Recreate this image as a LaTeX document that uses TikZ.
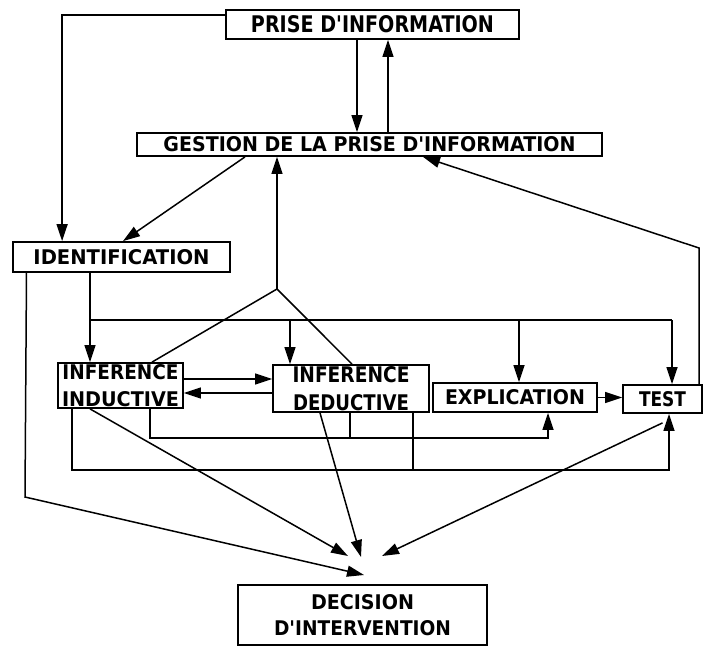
\documentclass[tikz,border=0pt]{standalone}
\usepackage{fontspec}
\newfontfamily\boxfont{DejaVu Sans}
\usetikzlibrary{arrows.meta,calc}
% box label: bold capitals squeezed to a given width and cap height
\newcommand\lbl[3]{\resizebox{#1pt}{#2pt}{\boxfont\bfseries #3}}
% two stacked labels with a given gap between them
\newcommand\twol[3]{\vbox{\halign{\hfil##\hfil\cr#1\cr\noalign{\kern#3pt}#2\cr}}}
\begin{document}
\begin{tikzpicture}[x=1pt,y=-1pt,line width=1.5pt,
  box/.style 2 args={draw,line width=1.8pt,inner sep=0pt,
    minimum width=#1pt,minimum height=#2pt},
  arr/.style={-{Triangle[length=17pt,width=11pt]}}]
\useasboundingbox (0,0) rectangle (703,647);

% boxes
\node[box={293}{29}] (prise) at (372.5,24.5) {\lbl{243}{17}{PRISE D'INFORMATION}};
\node[box={465}{23}] (gestion) at (369.5,144.5) {\lbl{412}{15}{GESTION DE LA PRISE D'INFORMATION}};
\node[box={217}{30}] (ident) at (121.5,257) {\lbl{176}{15}{IDENTIFICATION}};
\node[box={125}{45}] (induc) at (120.5,385.5)
  {\twol{\lbl{116}{15}{INFERENCE}}{\lbl{117}{15}{INDUCTIVE}}{10}};
\node[box={156}{47}] (deduc) at (351,388.5)
  {\twol{\lbl{117}{16}{INFERENCE}}{\lbl{116}{16}{DEDUCTIVE}}{11}};
\node[box={164}{29}] (expl) at (515,397.5) {\lbl{140}{15}{EXPLICATION}};
\node[box={79}{28}] (test) at (662.5,399) {\lbl{47}{15}{TEST}};
\node[box={249}{60}] (decis) at (362.5,615)
  {\twol{\lbl{103}{15}{DECISION}}{\lbl{177}{15}{D'INTERVENTION}}{10}};

% information intake and its management
\draw[arr] ([yshift=-6pt]prise.north west) -| ([xshift=50pt]ident.north west);
\draw[arr] ([xshift=-15.5pt]prise.south) -- ([xshift=-12.5pt]gestion.north);
\draw[arr] ([xshift=18.5pt]gestion.north) -- ([xshift=15.5pt]prise.south);
\draw[arr] ([xshift=-124.5pt]gestion.south) -- ([xshift=1.5pt]ident.north);

% both inferences report back to the management box
\coordinate (apex) at (277,289);
\draw[arr] (apex) -- (apex |- gestion.south);
\draw ([xshift=31.5pt]induc.north) -- (apex) -- ([xshift=1pt]deduc.north);

% distribution bus below IDENTIFICATION
\coordinate (busL) at (90,320);
\coordinate (busR) at (672,320);
\coordinate (dtop) at (290,320);
\coordinate (etop) at (519,320);
\draw[arr] (ident.south -| busL) -- (induc.north -| busL);
\draw (busL) -- (busR);
\draw[arr] (dtop) -- (dtop |- deduc.north);
\draw[arr] (etop) -- (etop |- expl.north);
\draw[arr] (busR) -- (busR |- test.north);

% induction <-> deduction
\coordinate (id1) at (0,379);
\coordinate (id2) at (0,393);
\draw[arr] (induc.east |- id1) -- (deduc.west |- id1);
\draw[arr] (deduc.west |- id2) -- (induc.east |- id2);

% explication -> test
\draw[arr] (expl.east) -- (test.west |- expl.east);

% test feeds back to the management box
\coordinate (fbT) at (699,248);
\draw[arr] (test.north -| fbT) -- (fbT) -- ([xshift=53.5pt]gestion.south);

% loops under the inference boxes
\coordinate (lp1) at (0,438);
\coordinate (lp2) at (0,470);
\coordinate (e1) at ([xshift=33pt]expl.south);
\coordinate (t2) at ([xshift=6.5pt]test.south);
\coordinate (d2) at ([xshift=-1pt]deduc.south);
\coordinate (d3) at ([xshift=62pt]deduc.south);
\draw[arr] ([xshift=29.5pt]induc.south) |- (e1 |- lp1) -- (e1);
\draw (d2) -- (d2 |- lp1);
\draw[arr] ([xshift=-48.5pt]induc.south) |- (t2 |- lp2) -- (t2);
\draw (d3) -- (d3 |- lp2);

% everything converges on the decision
\coordinate (tipA) at (364,575);
\coordinate (tipB) at (348,556);
\coordinate (tipC) at (361,557);
\coordinate (tipD) at (382,556);
\coordinate (lc) at (25,497);
\coordinate (ts) at ([yshift=-9pt]test.south);
\draw[arr] ([xshift=-95pt]ident.south) -- (lc) -- (tipA);
\draw[arr] ([xshift=-30.5pt]induc.south) -- (tipB);
\draw[arr] ([xshift=-31pt]deduc.south) -- (tipC);
\draw[arr] (ts) -- (tipD);
\end{tikzpicture}
\end{document}
